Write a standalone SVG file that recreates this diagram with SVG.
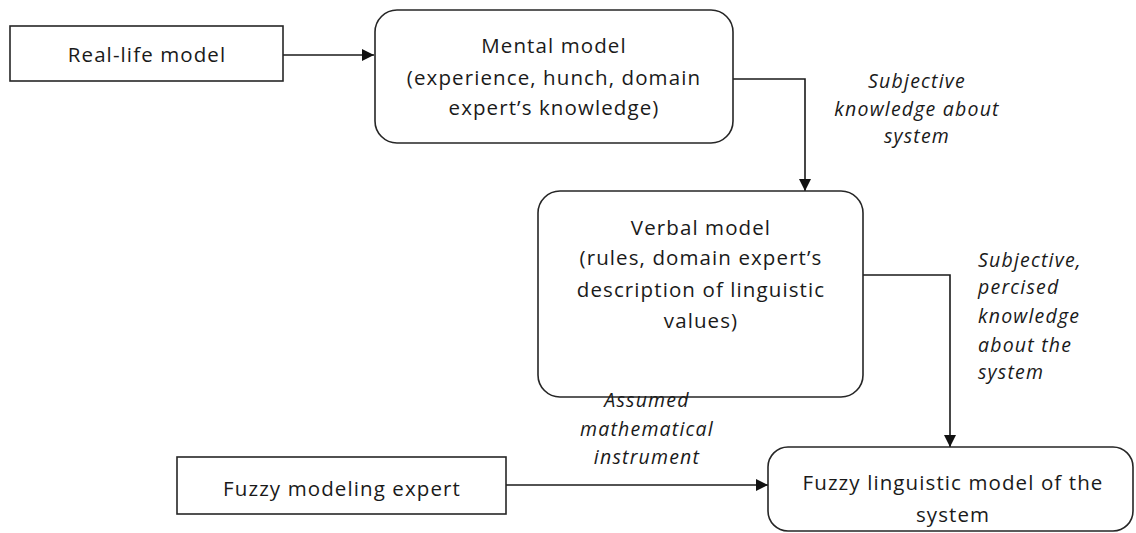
<svg xmlns="http://www.w3.org/2000/svg" width="1136" height="533" viewBox="0 0 1136 533">
<style>
.box{fill:#fff;stroke:#262626;stroke-width:1.6}
.t{font-family:"Open Sans","Liberation Sans",sans-serif;font-size:20.5px;letter-spacing:1.1px;fill:#1a1a1a;text-anchor:middle}
.i{font-family:"Open Sans","Liberation Sans",sans-serif;font-size:19.5px;font-style:italic;letter-spacing:1.2px;fill:#1a1a1a}
.c{fill:none;stroke:#1a1a1a;stroke-width:1.6}
</style>
<defs>
<marker id="ah" viewBox="0 0 12 12" refX="12" refY="6" markerWidth="12" markerHeight="12" markerUnits="userSpaceOnUse" orient="auto">
<path d="M0,0 L12,6 L0,12 Z" fill="#111"/>
</marker>
</defs>
<rect width="1136" height="533" fill="#fff"/>
<g id="connectors">
<path class="c" d="M283,55 H374" marker-end="url(#ah)"/>
<path class="c" d="M733,79 H805 V191" marker-end="url(#ah)"/>
<path class="c" d="M863,275 H950 V447" marker-end="url(#ah)"/>
<path class="c" d="M506,485 H768" marker-end="url(#ah)"/>
</g>
<g id="real-life">
<rect class="box" x="10" y="26" width="273" height="55"/>
<text class="t" x="147" y="62">Real-life model</text>
</g>
<g id="mental">
<rect class="box" x="375" y="10" width="358" height="133" rx="22"/>
<text class="t" x="554" y="53">Mental model</text>
<text class="t" x="554" y="85">(experience, hunch, domain</text>
<text class="t" x="554" y="115">expert’s knowledge)</text>
</g>
<g id="verbal">
<rect class="box" x="538" y="191" width="325" height="206" rx="22"/>
<text class="t" x="701" y="235">Verbal model</text>
<text class="t" x="701" y="265">(rules, domain expert’s</text>
<text class="t" x="701" y="297">description of linguistic</text>
<text class="t" x="701" y="328">values)</text>
</g>
<g id="fuzzy-expert">
<rect class="box" x="177" y="457" width="329" height="57"/>
<text class="t" x="342" y="496">Fuzzy modeling expert</text>
</g>
<g id="fuzzy-model">
<rect class="box" x="768" y="447" width="365" height="84" rx="20"/>
<text class="t" x="953" y="490">Fuzzy linguistic model of the</text>
<text class="t" x="953" y="522">system</text>
</g>
<g id="labels">
<text class="i" text-anchor="middle" x="917" y="88">Subjective</text>
<text class="i" text-anchor="middle" x="917" y="116">knowledge about</text>
<text class="i" text-anchor="middle" x="917" y="143">system</text>
<text class="i" x="978" y="267">Subjective,</text>
<text class="i" x="978" y="294">percised</text>
<text class="i" x="978" y="323">knowledge</text>
<text class="i" x="978" y="352">about the</text>
<text class="i" x="978" y="379">system</text>
<text class="i" text-anchor="middle" x="647" y="407">Assumed</text>
<text class="i" text-anchor="middle" x="647" y="436">mathematical</text>
<text class="i" text-anchor="middle" x="647" y="464">instrument</text>
</g>
</svg>
